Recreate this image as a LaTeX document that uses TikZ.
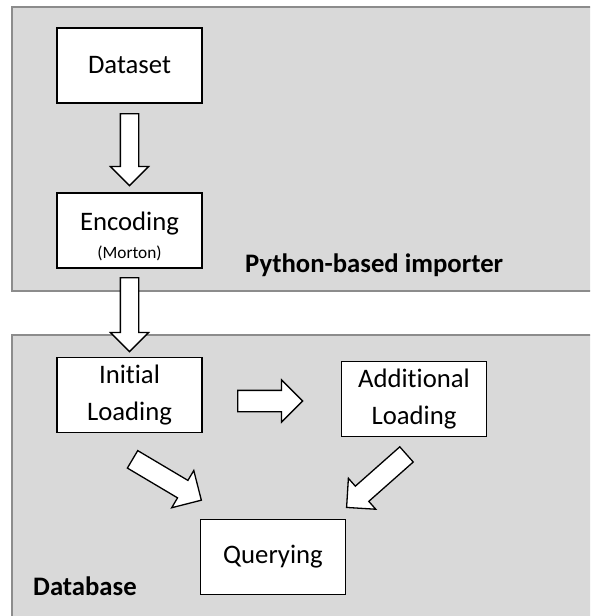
\documentclass[tikz,border=0pt]{standalone}
\usepackage{fontspec}
\setmainfont{Carlito}[Ligatures=CommonOff]
\usetikzlibrary{shapes.arrows, positioning}

\definecolor{panelgray}{HTML}{D9D9D9}
\definecolor{panelline}{HTML}{8C8C8C}

\tikzset{
	panel/.style={draw=panelline, fill=panelgray, line width=1.6pt},
	stepbox/.style={draw, fill=white, line width=1.8pt, minimum width=145pt, minimum height=75pt,
		inner sep=0pt, align=center, font=\fontsize{26.7}{37}\selectfont},
	blockarrow/.style={single arrow, draw, fill=white, line width=1.3pt, inner xsep=0pt,
		inner ysep=8.5pt, single arrow head extend=10pt, anchor=tail},
	paneltitle/.style={anchor=base west, inner sep=0pt, font=\fontsize{26.7}{32}\selectfont\bfseries}
}

\begin{document}
\begin{tikzpicture}[x=1pt, y=1pt]
				\useasboundingbox (0,0) rectangle (590,-616);
				\clip (0,0) rectangle (590,-616);

				% Draw the two panels
				\draw[panel] (12,-7) rectangle (610,-291);
				\draw[panel] (12,-335) rectangle (610,-640);

				\node[paneltitle] (importer) at (245,-272) {Python-based importer};
				\node[paneltitle] (database) at (33,-595) {Database};

				% Draw the boxes
				\node[stepbox] (dataset) at (129.5,-65.5) {Dataset};
				\node[stepbox] (encoding) at (129.5,-230.5) {\rule{0pt}{30pt}Encoding\\[-9pt]{\fontsize{17.3}{20}\selectfont(Morton)}};
				\node[stepbox] (initial) at (129.5,-395) {Initial\\Loading};
				\node[stepbox] (additional) at (414,-399) {Additional\\Loading};
				\node[stepbox] (querying) at (273,-557) {Querying};

				% Draw the block arrows between the boxes
				\node[blockarrow, rotate=-90, minimum height=72pt] (toencoding) at (129.5,-113) {};
				\node[blockarrow, rotate=-90, minimum height=74pt] (toinitial) at (129.5,-277) {};
				\node[blockarrow, minimum height=65pt, inner ysep=10pt, single arrow head extend=10.5pt] (toadditional) at (237,-401) {};
				\node[blockarrow, rotate=-30.7, minimum height=80pt, inner ysep=9.5pt, single arrow head extend=11.5pt] (fromfirst) at (132,-459) {};
				\node[blockarrow, rotate=-138.5, minimum height=80pt, inner ysep=9.5pt, single arrow head extend=10.5pt] (fromsecond) at (407,-454) {};
			\end{tikzpicture}
\end{document}
